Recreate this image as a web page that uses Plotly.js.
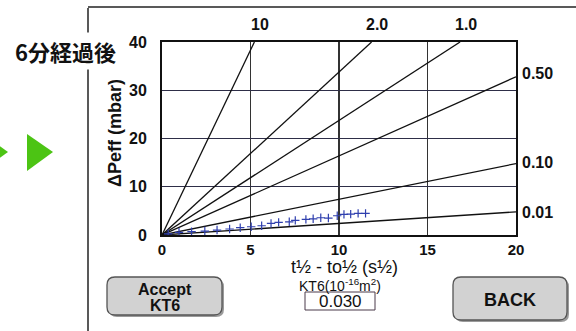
<!DOCTYPE html>
<html>
<head>
<meta charset="utf-8">
<script src="https://cdn.plot.ly/plotly-3.0.1.min.js"></script>
<style>
  html, body { margin: 0; padding: 0; background: #ffffff; }
  #chart { width: 576px; height: 331px; }
</style>
</head>
<body>
<div id="chart"></div>
<script>
// ---- data ----
const kLabels = ["10", "2.0", "1.0", "0.50", "0.10", "0.01"];
const lineEndX = [5.22, 11.84, 16.84, 20, 20, 20];
const lineEndY = [40, 40, 40, 32.8, 14.8, 4.8];

const measX = [0.35, 0.96, 1.67, 2.42, 3.11, 3.82, 4.42, 5.04, 5.63, 6.16, 6.59, 7.19, 7.53, 8.13, 8.54, 8.97, 9.40, 9.90, 10.28, 10.66, 11.08, 11.50];
const measY = [0.25, 0.56, 0.68, 0.82, 1.03, 1.24, 1.51, 1.71, 1.92, 2.41, 2.62, 2.74, 3.03, 3.23, 3.36, 3.57, 3.51, 3.99, 4.27, 4.33, 4.48, 4.48];

const xTicks = [0, 5, 10, 15, 20];
const yTicks = [0, 10, 20, 30, 40];

const titleText = "6分経過後";
const yTitle = "ΔPeff (mbar)";
const xTitle = "t½ - to½ (s½)";
const ktLabel = "KT6(10<sup>-16</sup>m<sup>2</sup>)";
const ktValue = "0.030";
const acceptLines = ["Accept", "KT6"];
const backText = "BACK";

// ---- geometry helpers (pixel -> paper) ----
const L = 162, R = 516, T = 42, B = 235;
const px = x => (x - L) / (R - L);
const py = y => (B - y) / (B - T);

const traces = [];
kLabels.forEach((k, i) => {
  traces.push({
    x: [0, lineEndX[i]], y: [0, lineEndY[i]],
    mode: "lines", type: "scatter",
    line: { color: "#111111", width: 1.3 },
    hoverinfo: "skip", showlegend: false
  });
});
traces.push({
  x: measX, y: measY, mode: "markers", type: "scatter",
  marker: { symbol: "cross-thin", size: 6, line: { color: "#2f3fae", width: 1.2 } },
  showlegend: false
});

const bold = (size, color) => ({ family: "Liberation Sans, Arial, sans-serif", size: size, color: color || "#111", weight: "bold" });
const reg = (size, color) => ({ family: "Liberation Sans, Arial, sans-serif", size: size, color: color || "#111" });

function ann(text, x, y, font, extra) {
  return Object.assign({ text: text, x: px(x), y: py(y), xref: "paper", yref: "paper",
    showarrow: false, xanchor: "center", yanchor: "middle", font: font }, extra || {});
}

const annotations = [
  ann(titleText, 65, 51, { family: "Noto Sans CJK JP, sans-serif", size: 22, color: "#111", weight: "bold" }, { bgcolor: "#ffffff", borderpad: 2 }),
  ann(yTitle, 115, 133, bold(18), { textangle: -90 }),
  ann(xTitle, 344, 267, reg(18), { borderpad: 0 }),
  ann(ktLabel, 340, 285, reg(14), { borderpad: 0 }),
  ann(ktValue, 340, 301, reg(17)),
  ann(acceptLines[0], 165, 289, bold(16), { borderpad: 0 }),
  ann(acceptLines[1], 165, 305, bold(16), { borderpad: 0 }),
  ann(backText, 510, 300, bold(18)),
  ann(kLabels[0], 260, 25, bold(16)),
  ann(kLabels[1], 377, 25, bold(16)),
  ann(kLabels[2], 466, 25, bold(16)),
  ann(kLabels[3], 520, 73, bold(16), { xanchor: "left" }),
  ann(kLabels[4], 520, 162, bold(16), { xanchor: "left" }),
  ann(kLabels[5], 520, 212, bold(16), { xanchor: "left" })
];

function rrect(x0, y0, x1, y1, r) {
  const X0 = px(x0), X1 = px(x1), Y0 = py(y0), Y1 = py(y1);
  const rx = r / (R - L), ry = r / (B - T);
  return `M ${X0 + rx} ${Y0} L ${X1 - rx} ${Y0} Q ${X1} ${Y0} ${X1} ${Y0 - ry} L ${X1} ${Y1 + ry} Q ${X1} ${Y1} ${X1 - rx} ${Y1} L ${X0 + rx} ${Y1} Q ${X0} ${Y1} ${X0} ${Y1 + ry} L ${X0} ${Y0 - ry} Q ${X0} ${Y0} ${X0 + rx} ${Y0} Z`;
}
function poly(pts) {
  return "M " + pts.map(p => `${px(p[0])} ${py(p[1])}`).join(" L ") + " Z";
}

const shapes = [
  // frame
  { type: "line", xref: "paper", yref: "paper", x0: px(88), x1: px(88), y0: py(8), y1: py(331), line: { color: "#222", width: 1.5 }, layer: "below" },
  { type: "line", xref: "paper", yref: "paper", x0: px(88), x1: px(576), y0: py(7), y1: py(7), line: { color: "#222", width: 1.5 }, layer: "below" },
  // green arrows
  { type: "path", xref: "paper", yref: "paper", path: poly([[-18, 133], [8, 152], [-18, 171]]), fillcolor: "#4cc414", line: { width: 0 }, layer: "below" },
  { type: "path", xref: "paper", yref: "paper", path: poly([[27, 134], [53, 152], [27, 171]]), fillcolor: "#4cc414", line: { width: 0 }, layer: "below" },
  // buttons (shadow + face)
  { type: "path", xref: "paper", yref: "paper", path: rrect(109, 279, 224, 317, 8), fillcolor: "#9a9a9a", line: { width: 0 }, layer: "below" },
  { type: "path", xref: "paper", yref: "paper", path: rrect(107, 277, 222, 315, 8), fillcolor: "#d2d2d2", line: { color: "#555", width: 1.3 }, layer: "below" },
  { type: "path", xref: "paper", yref: "paper", path: rrect(455, 279, 569, 322, 8), fillcolor: "#9a9a9a", line: { width: 0 }, layer: "below" },
  { type: "path", xref: "paper", yref: "paper", path: rrect(453, 277, 567, 320, 8), fillcolor: "#d2d2d2", line: { color: "#555", width: 1.3 }, layer: "below" },
  // value box
  { type: "rect", xref: "paper", yref: "paper", x0: px(305), x1: px(375), y0: py(292), y1: py(310), fillcolor: "#ffffff", line: { color: "#4a3a4a", width: 1 }, layer: "below" }
];

const layout = {
  width: 576, height: 331,
  margin: { l: L, r: 576 - R, t: T, b: 331 - B, pad: 0 },
  paper_bgcolor: "#ffffff", plot_bgcolor: "#ffffff",
  showlegend: false,
  xaxis: {
    range: [0, 20], tickvals: xTicks, ticktext: xTicks.map(String),
    showgrid: true, gridcolor: "#333333", gridwidth: 1.2,
    zeroline: false, showline: true, linecolor: "#111", linewidth: 2, mirror: true,
    ticks: "", ticklabelstandoff: 0, tickfont: bold(15), fixedrange: true
  },
  yaxis: {
    range: [0, 40], tickvals: yTicks, ticktext: yTicks.map(String),
    showgrid: true, gridcolor: "#2e2e48", gridwidth: 1.2,
    zeroline: false, showline: true, linecolor: "#111", linewidth: 2, mirror: true,
    ticks: "", ticklabelstandoff: 10, tickfont: bold(16), fixedrange: true
  },
  annotations: annotations,
  shapes: shapes
};

Plotly.newPlot("chart", traces, layout, { displayModeBar: false, staticPlot: true });
</script>
</body>
</html>
